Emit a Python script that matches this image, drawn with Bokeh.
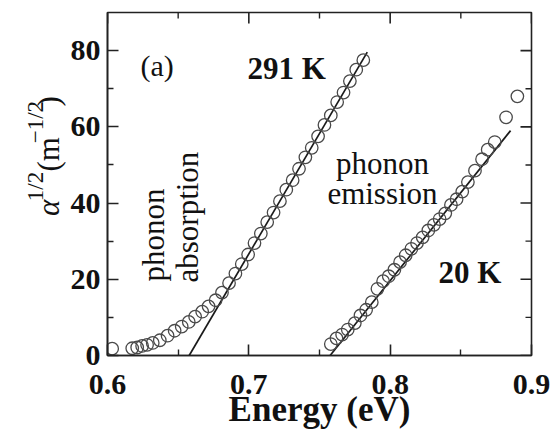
import math
from bokeh.plotting import figure
from bokeh.layouts import row
from bokeh.models import LinearAxis, FixedTicker, Label, Range1d
from bokeh.embed import file_html
from bokeh.resources import INLINE

# ---- data ----
energy_291K = [0.6033, 0.6175, 0.6210, 0.6245, 0.6280, 0.6320, 0.6370, 0.6425, 0.6475,
               0.6525, 0.6575, 0.6620, 0.6670, 0.6715, 0.6765, 0.6810, 0.6860, 0.6905,
               0.6950, 0.6995, 0.7040, 0.7085, 0.7130, 0.7175, 0.7220, 0.7265, 0.7310,
               0.7355, 0.7400, 0.7445, 0.7490, 0.7535, 0.7580, 0.7625, 0.7670, 0.7715,
               0.7760, 0.7810]
alpha_291K = [1.8, 1.9, 2.1, 2.5, 2.8, 3.3, 4.0, 5.2, 6.5,
              7.6, 8.8, 10.2, 11.5, 12.9, 14.5, 16.5, 19.0, 21.5,
              24.0, 26.5, 29.5, 32.0, 35.0, 37.5, 40.5, 43.5, 46.0,
              49.0, 52.0, 54.5, 57.5, 60.5, 63.0, 66.5, 69.0, 72.0,
              75.0, 77.5]

energy_20K = [0.758, 0.762, 0.766, 0.770, 0.775, 0.779, 0.783, 0.787, 0.791, 0.795,
              0.799, 0.803, 0.807, 0.811, 0.815, 0.819, 0.823, 0.827, 0.831, 0.835,
              0.839, 0.843, 0.847, 0.851, 0.855, 0.860, 0.865, 0.869, 0.874, 0.882,
              0.890]
alpha_20K = [3.0, 4.5, 5.5, 6.8, 8.5, 10.5, 12.0, 14.0, 17.5, 19.5,
             20.8, 22.5, 24.5, 26.3, 28.0, 29.5, 31.0, 32.8, 34.3, 35.8,
             37.3, 39.5, 41.0, 43.0, 45.5, 48.5, 51.5, 54.0, 56.0, 62.5,
             68.0]

fit_energy_291K = [0.6578, 0.7838]
fit_alpha_291K = [0.0, 79.6]
fit_energy_20K = [0.7575, 0.8852]
fit_alpha_20K = [0.0, 59.0]

x_ticks = [0.6, 0.7, 0.8, 0.9]
x_minor = [0.65, 0.75, 0.85]
y_ticks = [0, 20, 40, 60, 80]
y_minor = [10, 30, 50, 70]

XR = (0.6, 0.9)
YR = (0, 90)

# ---- layout in page pixels ----
W, H = 550, 438
LW = 66                               # width of the strip holding the y title
FL, FR, FT, FB = 107, 531, 12, 355    # frame edges on the page
FONT = "Liberation Serif"
INK = "#111111"
AX = "#222222"


def px(page_x):
    return XR[0] + (page_x - FL) * (XR[1] - XR[0]) / (FR - FL)


def py(page_y):
    return YR[0] + (FB - page_y) * (YR[1] - YR[0]) / (FB - FT)


p = figure(width=W - LW, height=H, x_range=Range1d(*XR), y_range=Range1d(*YR),
           output_backend="svg", toolbar_location=None,
           x_axis_location=None, y_axis_location=None,
           min_border_left=FL - LW, min_border_right=W - FR,
           min_border_top=FT, min_border_bottom=H - FB)
p.xgrid.grid_line_color = None
p.ygrid.grid_line_color = None
p.outline_line_color = AX
p.outline_line_width = 1.6
p.background_fill_color = "white"
p.border_fill_color = "white"


def style_axis(ax):
    ax.major_tick_in = 11
    ax.major_tick_out = 0
    ax.minor_tick_in = 6
    ax.minor_tick_out = 0
    ax.axis_line_color = AX
    ax.axis_line_width = 1.6
    ax.major_tick_line_color = AX
    ax.major_tick_line_width = 1.6
    ax.minor_tick_line_color = AX
    ax.minor_tick_line_width = 1.4
    ax.major_label_text_font = FONT
    ax.major_label_text_font_style = "bold"
    ax.major_label_text_font_size = "30px"
    ax.major_label_text_color = INK


xb = LinearAxis(ticker=FixedTicker(ticks=x_ticks, minor_ticks=x_minor))
style_axis(xb)
xb.major_label_standoff = 19
xb.axis_label = "Energy (eV)"
xb.axis_label_text_font = FONT
xb.axis_label_text_font_style = "bold"
xb.axis_label_text_font_size = "35px"
xb.axis_label_text_color = INK
xb.axis_label_standoff = -7
p.add_layout(xb, "below")

yl = LinearAxis(ticker=FixedTicker(ticks=y_ticks, minor_ticks=y_minor))
style_axis(yl)
yl.major_label_standoff = 7
p.add_layout(yl, "left")

# mirrored inward ticks on the top and right edges
p.ray(x=x_ticks, y=[YR[1]] * len(x_ticks), length=11, length_units="screen",
      angle=-math.pi / 2, line_color=AX, line_width=1.6)
p.ray(x=x_minor, y=[YR[1]] * len(x_minor), length=6, length_units="screen",
      angle=-math.pi / 2, line_color=AX, line_width=1.4)
p.ray(x=[XR[1]] * len(y_ticks), y=y_ticks, length=11, length_units="screen",
      angle=math.pi, line_color=AX, line_width=1.6)
p.ray(x=[XR[1]] * len(y_minor), y=y_minor, length=6, length_units="screen",
      angle=math.pi, line_color=AX, line_width=1.4)

# ---- data marks ----
p.line(fit_energy_291K, fit_alpha_291K, line_color="#1a1a1a", line_width=1.7)
p.line(fit_energy_20K, fit_alpha_20K, line_color="#1a1a1a", line_width=1.7)
p.scatter(energy_291K, alpha_291K, marker="circle", size=12.5, fill_color=None,
          line_color="#4a4a4a", line_width=1.3)
p.scatter(energy_20K, alpha_20K, marker="circle", size=12.5, fill_color=None,
          line_color="#4a4a4a", line_width=1.3)


def lab(fig, x, y, text, size="30px", style="normal", angle=0.0, align="left",
        baseline="alphabetic"):
    fig.add_layout(Label(x=x, y=y, text=text, angle=angle, text_align=align,
                         text_baseline=baseline, text_font=FONT,
                         text_font_style=style, text_font_size=size,
                         text_color=INK))


lab(p, px(140), py(65), "(a)", size="30px")
lab(p, px(247), py(68), "291 K", size="31px", style="bold")
lab(p, px(382), py(163), "phonon", size="31px", align="center")
lab(p, px(382), py(193), "emission", size="31px", align="center")
lab(p, px(438), py(272), "20 K", size="31px", style="bold")
lab(p, px(153), py(281), "phonon", size="31px", angle=math.pi / 2)
lab(p, px(187), py(282), "absorption", size="31px", angle=math.pi / 2)

# ---- y axis title strip: alpha^{1/2} (m^{-1/2}) ----
t = figure(width=LW, height=H, x_range=Range1d(0, LW), y_range=Range1d(0, H),
           output_backend="svg", toolbar_location=None,
           x_axis_location=None, y_axis_location=None, min_border=0)
t.xgrid.grid_line_color = None
t.ygrid.grid_line_color = None
t.outline_line_color = None
t.border_fill_color = "white"
t.background_fill_color = "white"

base_x, sup_x = 48, 35
lab(t, base_x, H - 260, "α", size="31px", style="italic", angle=math.pi / 2)
lab(t, sup_x, H - 241, "1/2", size="23px", angle=math.pi / 2)
lab(t, base_x, H - 203, "(m", size="31px", angle=math.pi / 2)
lab(t, sup_x, H - 167, "−1/2", size="23px", angle=math.pi / 2)
lab(t, base_x, H - 120, ")", size="31px", angle=math.pi / 2)

layout = row(t, p)
open("out.html", "w").write(file_html(layout, INLINE))
